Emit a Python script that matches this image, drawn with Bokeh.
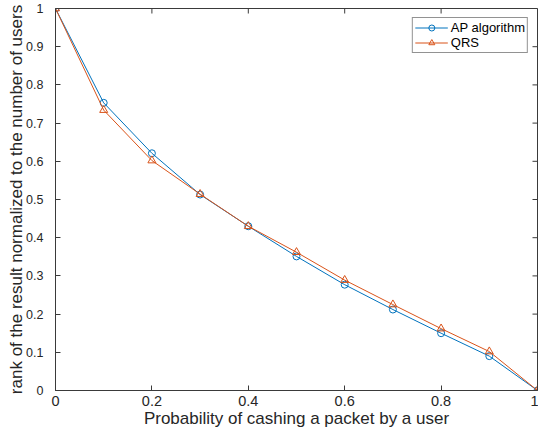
import math
from bokeh.plotting import figure
from bokeh.models import FixedTicker, Range1d, Legend, LegendItem
from bokeh.embed import file_html
from bokeh.resources import INLINE

# Caching probability and normalized rank for both schemes
prob = [0.0, 0.1, 0.2, 0.3, 0.4, 0.5, 0.6, 0.7, 0.8, 0.9, 1.0]
ap_algorithm = [1.0, 0.753, 0.621, 0.513, 0.430, 0.351, 0.277, 0.212, 0.150, 0.090, 0.0]
qrs = [1.0, 0.734, 0.602, 0.514, 0.430, 0.362, 0.289, 0.225, 0.162, 0.102, 0.0]

x_ticks = [0.0, 0.2, 0.4, 0.6, 0.8, 1.0]
x_tick_labels = ["0", "0.2", "0.4", "0.6", "0.8", "1"]
y_ticks = [0.0, 0.1, 0.2, 0.3, 0.4, 0.5, 0.6, 0.7, 0.8, 0.9, 1.0]
y_tick_labels = ["0", "0.1", "0.2", "0.3", "0.4", "0.5", "0.6", "0.7", "0.8", "0.9", "1"]

BLUE = "#0072BD"
ORANGE = "#D95319"
AXIS = "#3a3a3a"
TEXT = "#262626"
FONT = "Liberation Sans"

p = figure(width=538, height=437, output_backend="svg", toolbar_location=None,
           x_range=Range1d(0, 1), y_range=Range1d(0, 1),
           min_border_left=55, min_border_right=1, min_border_top=8, min_border_bottom=47,
           x_axis_label="Probability of cashing a packet by a user",
           y_axis_label="rank of the result normalized to the number of users")
p.grid.visible = False
p.outline_line_color = AXIS
p.outline_line_width = 1
p.background_fill_color = "white"
p.border_fill_color = "white"

def style_axis(ax, ticks, labels, tick_size):
    ax.ticker = FixedTicker(ticks=ticks)
    ax.major_label_overrides = {t: l for t, l in zip(ticks, labels)}
    ax.minor_tick_line_color = None
    ax.major_tick_in = 5
    ax.major_tick_out = 0
    ax.axis_line_color = AXIS
    ax.major_tick_line_color = AXIS
    ax.major_label_text_font = FONT
    ax.major_label_text_font_size = tick_size
    ax.major_label_text_color = TEXT
    ax.axis_label_text_font = FONT
    ax.axis_label_text_font_size = "17px"
    ax.axis_label_text_font_style = "normal"
    ax.axis_label_text_color = TEXT

style_axis(p.xaxis[0], x_ticks, x_tick_labels, "14.5px")
style_axis(p.yaxis[0], y_ticks, y_tick_labels, "12.5px")
p.xaxis[0].major_label_standoff = 5
p.xaxis[0].axis_label_standoff = 0
p.yaxis[0].major_label_standoff = 12
p.yaxis[0].axis_label_standoff = -3

# Inward tick marks along the top and right edges of the box
p.ray(x=x_ticks, y=[1.0] * len(x_ticks), length=5, length_units="screen",
      angle=-math.pi / 2, line_color=AXIS, line_width=1)
p.ray(x=[1.0] * len(y_ticks), y=y_ticks, length=5, length_units="screen",
      angle=math.pi, line_color=AXIS, line_width=1)

l1 = p.line(prob, ap_algorithm, line_color=BLUE, line_width=1)
m1 = p.scatter(prob, ap_algorithm, marker="circle", size=7, line_color=BLUE,
               fill_color=None, line_width=1)
l2 = p.line(prob, qrs, line_color=ORANGE, line_width=1)
m2 = p.scatter(prob, qrs, marker="triangle", size=8, line_color=ORANGE,
               fill_color=None, line_width=1)

legend = Legend(items=[LegendItem(label="AP algorithm", renderers=[l1, m1]),
                       LegendItem(label="QRS", renderers=[l2, m2])],
                location="top_right")
legend.label_text_font = FONT
legend.label_text_font_size = "13px"
legend.label_text_color = "#000000"
legend.label_height = 15
legend.glyph_height = 15
legend.glyph_width = 33
legend.label_standoff = 3
legend.spacing = 0
legend.padding = 2
legend.margin = 9
legend.border_line_color = TEXT
legend.border_line_width = 1
legend.background_fill_alpha = 1
p.add_layout(legend, "center")

open("out.html", "w").write(file_html(p, INLINE))
